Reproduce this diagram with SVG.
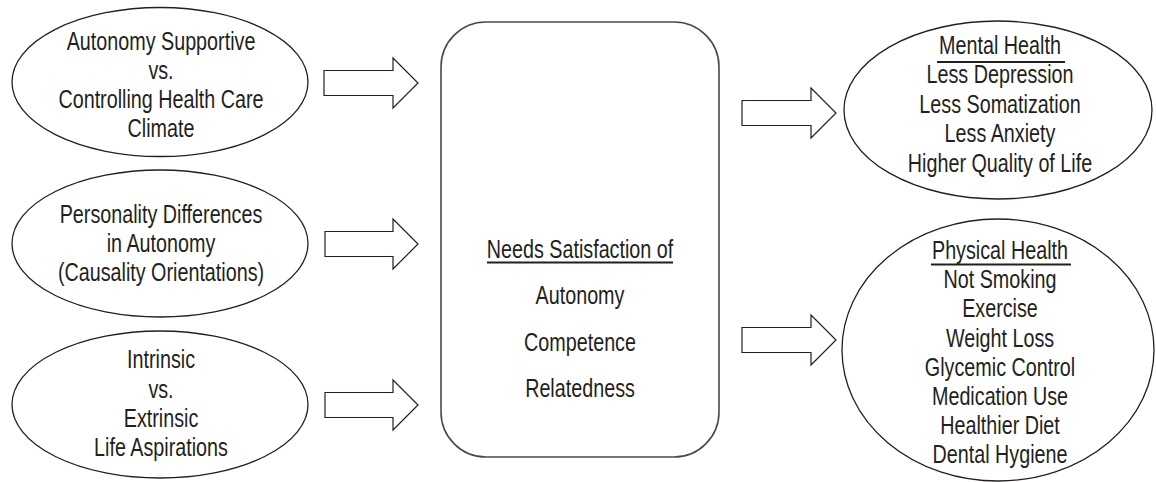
<svg xmlns="http://www.w3.org/2000/svg" width="1156" height="482" viewBox="0 0 1156 482">
<style>
.sh{fill:#fff;stroke:#231f20;stroke-width:1.3}
.box{fill:#fff;stroke:#4a4a4a;stroke-width:1.6}
.ar{fill:#fff;stroke:#231f20;stroke-width:1.2;stroke-linejoin:miter}
text{font-family:"Liberation Sans",Arial,sans-serif;font-size:25px;fill:#231f20;text-anchor:middle}
.ul{stroke:#231f20;stroke-width:1.8}
</style>
<rect width="1156" height="482" fill="#fff"/>
<g id="connectors">
<polygon class="ar" points="324,70.5 393,70.5 393,58 418,83 393,108 393,95.5 324,95.5"/>
<polygon class="ar" points="325,231.5 393,231.5 393,219 418,244 393,269 393,256.5 325,256.5"/>
<polygon class="ar" points="325,392.5 393,392.5 393,380 418,405 393,430 393,417.5 325,417.5"/>
<polygon class="ar" points="742,100.5 811,100.5 811,88 836,113 811,138 811,125.5 742,125.5"/>
<polygon class="ar" points="742,327.5 811,327.5 811,315 836,340 811,365 811,352.5 742,352.5"/>
</g>
<g id="node-climate">
<ellipse class="sh" cx="160" cy="82" rx="148" ry="74.5"/>
<g transform="translate(161 0) scale(0.79 1)">
<text x="0" y="50">Autonomy Supportive</text>
<text x="0" y="79">vs.</text>
<text x="0" y="108">Controlling Health Care</text>
<text x="0" y="137">Climate</text>
</g>
</g>
<g id="node-personality">
<ellipse class="sh" cx="160" cy="243.5" rx="148" ry="73.5"/>
<g transform="translate(161 0) scale(0.79 1)">
<text x="0" y="223">Personality Differences</text>
<text x="0" y="252">in Autonomy</text>
<text x="0" y="281">(Causality Orientations)</text>
</g>
</g>
<g id="node-aspirations">
<ellipse class="sh" cx="160" cy="404.5" rx="148" ry="73.5"/>
<g transform="translate(161 0) scale(0.79 1)">
<text x="0" y="368">Intrinsic</text>
<text x="0" y="398">vs.</text>
<text x="0" y="427">Extrinsic</text>
<text x="0" y="456">Life Aspirations</text>
</g>
</g>
<g id="node-needs">
<rect class="box" x="441" y="22" width="278" height="435" rx="45" ry="45"/>
<g transform="translate(580 0) scale(0.79 1)">
<text x="0" y="258">Needs Satisfaction of</text>
<text x="0" y="304">Autonomy</text>
<text x="0" y="351">Competence</text>
<text x="0" y="397">Relatedness</text>
</g>
<line class="ul" x1="487" y1="262.5" x2="673" y2="262.5"/>
</g>
<g id="node-mental">
<ellipse class="sh" cx="998" cy="110" rx="154" ry="89"/>
<g transform="translate(1000 0) scale(0.79 1)">
<text x="0" y="54">Mental Health</text>
<text x="0" y="83.5">Less Depression</text>
<text x="0" y="113">Less Somatization</text>
<text x="0" y="142.5">Less Anxiety</text>
<text x="0" y="172">Higher Quality of Life</text>
</g>
<line class="ul" x1="937" y1="62" x2="1065" y2="62"/>
</g>
<g id="node-physical">
<ellipse class="sh" cx="998" cy="350" rx="156" ry="131"/>
<g transform="translate(1000 0) scale(0.79 1)">
<text x="0" y="259">Physical Health</text>
<text x="0" y="288">Not Smoking</text>
<text x="0" y="317">Exercise</text>
<text x="0" y="347">Weight Loss</text>
<text x="0" y="376">Glycemic Control</text>
<text x="0" y="405">Medication Use</text>
<text x="0" y="434">Healthier Diet</text>
<text x="0" y="463">Dental Hygiene</text>
</g>
<line class="ul" x1="931" y1="264.5" x2="1071" y2="264.5"/>
</g>
</svg>
